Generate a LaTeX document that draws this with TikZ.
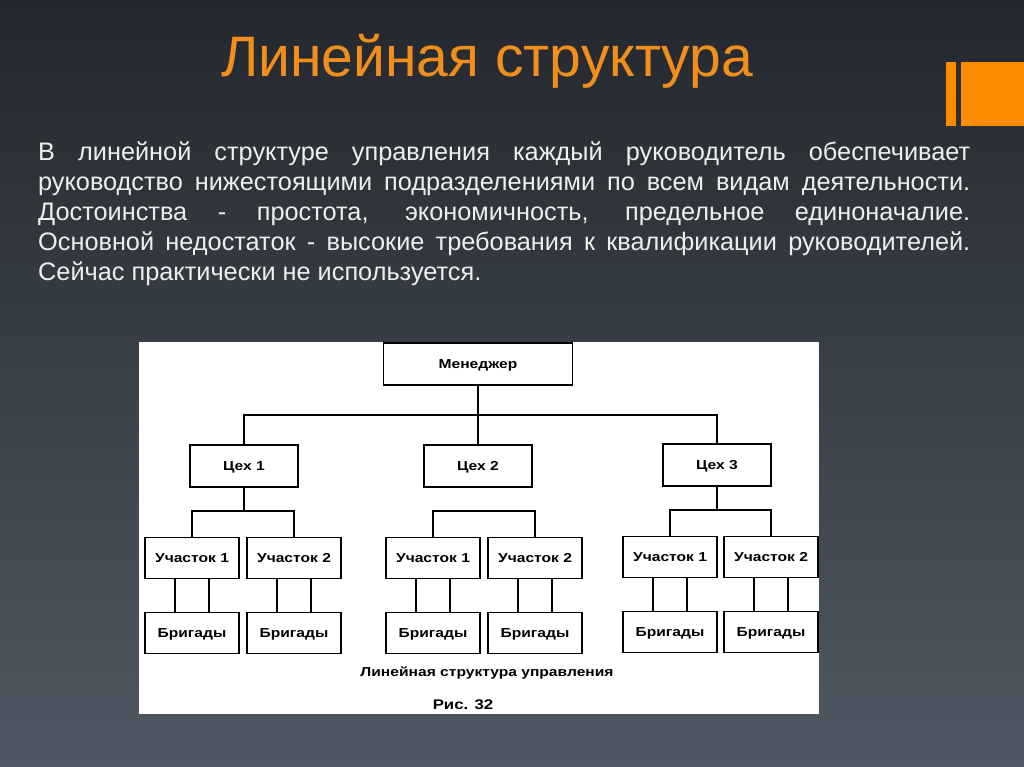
\documentclass[tikz,border=0pt]{standalone}
\usepackage{fontspec}
\setmainfont{Liberation Sans}
\newfontfamily\diagfont[FakeStretch=1.2]{Liberation Sans}
\usepackage{tikz}
\usetikzlibrary{positioning, calc}
\definecolor{bgtop}{RGB}{36, 40, 46}
\definecolor{bgbottom}{RGB}{80, 89, 99}
\definecolor{titlecolor}{RGB}{242, 142, 28}
\definecolor{barcolor}{RGB}{255, 140, 0}
\definecolor{textcolor}{RGB}{238, 238, 238}

\begin{document}
\begin{tikzpicture}[x=1pt, y=-1pt,
    unit/.style={draw, line width=1.8pt, fill=white, minimum width=94pt, minimum height=41pt, inner sep=0pt, text height=9pt, text depth=0pt, font=\diagfont\bfseries\fontsize{13}{15}\selectfont},
    link/.style={line width=1.8pt}]
        % Slide background
        \useasboundingbox (0,0) rectangle (1024,767);
        \shade[top color=bgtop, bottom color=bgbottom] (0,0) rectangle (1024,767);
        
        % Orange bars
        \fill[barcolor] (946,62) rectangle (956,126);
        \fill[barcolor] (961,62) rectangle (1024,126);
        
        % Title and text
        \node[anchor=base west, inner sep=0pt, text=titlecolor, font=\fontsize{57}{62}\selectfont] (title) at (221,77) {Линейная структура};
        
        \node[anchor=north west, inner sep=0pt, text=textcolor, text width=932pt, align=justify, font=\fontsize{25.3}{30}\selectfont] (body) at (38,142) {\hyphenpenalty=10000 В линейной структуре управления каждый руководитель обеспечивает\linebreak руководство нижестоящими подразделениями по всем видам деятельности.\linebreak Достоинства - простота, экономичность, предельное единоначалие.\linebreak Основной недостаток - высокие требования к квалификации руководителей.\linebreak Сейчас практически не используется.};
        
        % Picture of the chart
        \fill[white] (139,342) rectangle (819,714);
        
        % Top level
        \node[unit, minimum width=189pt, minimum height=42pt] (mgr) at (478,364) {Менеджер};
        
        % Workshops
        \node[unit, minimum width=108pt, minimum height=42pt] (c1) at (244,466) {Цех 1};
        \node[unit, minimum width=108pt, minimum height=42pt] (c2) at (478,466) {Цех 2};
        \node[unit, minimum width=108pt, minimum height=42pt] (c3) at (717,465) {Цех 3};
        
        % Sections
        \node[unit] (u11) at (192,558) {Участок 1};
        \node[unit] (u12) at (294,558) {Участок 2};
        \node[unit] (u21) at (433,558) {Участок 1};
        \node[unit] (u22) at (535,558) {Участок 2};
        \node[unit] (u31) at (670,557) {Участок 1};
        \node[unit] (u32) at (771,557) {Участок 2};
        
        % Brigades
        \node[unit] (b11) at (192,633) {Бригады};
        \node[unit] (b12) at (294,633) {Бригады};
        \node[unit] (b21) at (433,633) {Бригады};
        \node[unit] (b22) at (535,633) {Бригады};
        \node[unit] (b31) at (670,632) {Бригады};
        \node[unit] (b32) at (771,632) {Бригады};
        
        % Junction points
        \coordinate (hub) at (478,415);
        \coordinate (j1) at (244,511);
        \coordinate (j2) at (478,511);
        \coordinate (j3) at (717,510);
        
        % Connectors
        \draw[link] (mgr) -- (c2);
        \draw[link] (c1.north) |- (hub) -| (c3.north);
        \draw[link] (c1) -- (j1);
        \draw[link] (c3) -- (j3);
        \draw[link] (u11.north) |- (j1) -| (u12.north);
        \draw[link] (u21.north) |- (j2) -| (u22.north);
        \draw[link] (u31.north) |- (j3) -| (u32.north);
        \foreach \u/\b in {u11/b11, u12/b12, u21/b21, u22/b22, u31/b31, u32/b32} {
            \draw[link] ([xshift=-17pt]\u.south) -- ([xshift=-17pt]\b.north);
            \draw[link] ([xshift=17pt]\u.south) -- ([xshift=17pt]\b.north);
        }
        
        % Caption
        \node[font=\diagfont\bfseries\fontsize{13}{15}\selectfont] (caption) at (487,673) {Линейная структура управления};
        \node[font=\diagfont\bfseries\fontsize{14}{16}\selectfont] (fig) at (463,705) {Рис. 32};
        
    \end{tikzpicture}
\end{document}
